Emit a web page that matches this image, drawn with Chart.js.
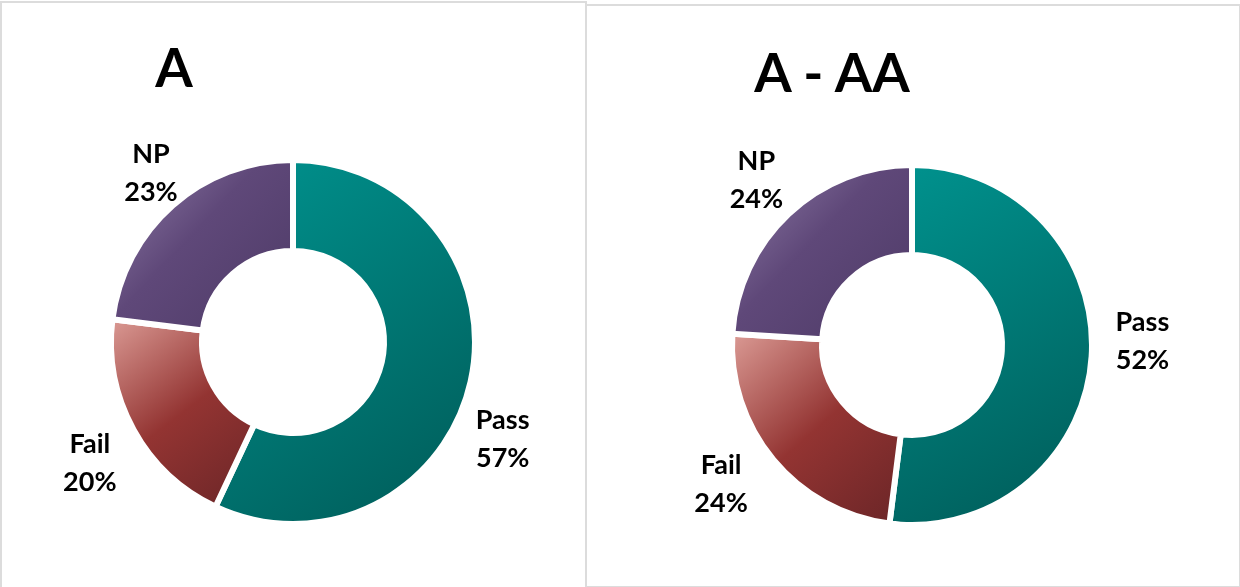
<!DOCTYPE html>
<html>
<head>
<meta charset="utf-8">
<script src="https://cdn.jsdelivr.net/npm/chart.js@4/dist/chart.umd.min.js"></script>
<style>
  html, body { margin: 0; padding: 0; background: #fff; }
  body { width: 1240px; height: 587px; position: relative; overflow: hidden; font-family: Lato, "Open Sans", sans-serif; }
  .box { position: absolute; box-sizing: border-box; border: 2px solid #dcdcdc; background: #fff; }
  .title { position: absolute; font-weight: 700; font-size: 54px; line-height: 1; color: #000; white-space: nowrap; transform: translateX(-50%); }
  canvas { position: absolute; }
</style>
</head>
<body>
<div class="box" style="left:0px; top:1px; width:587px; height:600px;"></div>
<div class="box" style="left:585px; top:4px; width:656px; height:584px;"></div>
<div class="title" id="titleA" style="left:174px; top:40px;"></div>
<div class="title" id="titleB" style="left:832px; top:45px;"></div>
<canvas id="chartA" width="585" height="587" style="left:0px; top:0px;"></canvas>
<canvas id="chartB" width="654" height="587" style="left:586px; top:0px;"></canvas>

<script>
// data
const categories = ["Pass", "Fail", "NP"];
const valuesA = [57, 20, 23];
const valuesAAA = [52, 24, 24];
const chartTitles = ["A", "A - AA"];

// gradient stops per slice (top-left -> bottom-right of the slice)
const sliceStops = [
  [[0, "#00938f"], [1, "#005a57"]],
  [[0, "#dc9c96"], [0.5, "#933432"], [1, "#6a2527"]],
  [[0, "#917faa"], [0.45, "#5f4879"], [1, "#4d3a66"]],
];

document.getElementById("titleA").textContent = chartTitles[0];
document.getElementById("titleB").textContent = chartTitles[1];

/**
 * Linear gradient across the bounding box of one doughnut slice
 */
function sliceGradient(context) {
  const chart = context.chart;
  const area = chart.chartArea;
  const i = context.dataIndex;
  const stops = sliceStops[i % sliceStops.length];
  if (!area || i === undefined) return stops[0][1];

  const data = chart.data.datasets[0].data;
  const total = data.reduce((a, b) => a + b, 0);
  const before = data.slice(0, i).reduce((a, b) => a + b, 0);
  const start = -Math.PI / 2 + (before / total) * Math.PI * 2;
  const end = start + (data[i] / total) * Math.PI * 2;

  const cx = (area.left + area.right) / 2;
  const cy = (area.top + area.bottom) / 2;
  const outer = Math.min(area.width, area.height) / 2;
  const inner = outer * 0.5;

  let minX = Infinity, minY = Infinity, maxX = -Infinity, maxY = -Infinity;
  for (let k = 0; k <= 60; k++) {
    const a = start + ((end - start) * k) / 60;
    [outer, inner].forEach((r) => {
      const px = cx + Math.cos(a) * r;
      const py = cy + Math.sin(a) * r;
      minX = Math.min(minX, px); maxX = Math.max(maxX, px);
      minY = Math.min(minY, py); maxY = Math.max(maxY, py);
    });
  }

  const g = chart.ctx.createLinearGradient(minX, minY, maxX, maxY);
  stops.forEach(([pos, col]) => g.addColorStop(pos, col));
  return g;
}

/**
 * Plugin drawing "Name\nNN%" labels outside each slice
 */
const outsideLabels = {
  id: "outsideLabels",
  afterDatasetsDraw(chart, args, opts) {
    const { ctx } = chart;
    const meta = chart.getDatasetMeta(0);
    const data = chart.data.datasets[0].data;
    const fontSize = 27;
    const lineH = 38;
    const nudge = opts.nudge || [];
    ctx.save();
    ctx.font = `700 ${fontSize}px Lato, "Open Sans", sans-serif`;
    ctx.fillStyle = "#000";
    ctx.textAlign = "center";
    ctx.textBaseline = "middle";

    meta.data.forEach((arc, i) => {
      const mid = (arc.startAngle + arc.endAngle) / 2;
      const dx = Math.cos(mid);
      const dy = Math.sin(mid);
      const line1 = chart.data.labels[i];
      const line2 = `${data[i]}%`;
      const w = Math.max(ctx.measureText(line1).width, ctx.measureText(line2).width);
      const h = lineH * 2;
      const r = arc.outerRadius + opts.gap;
      const [nx, ny] = nudge[i] || [0, 0];
      const x = arc.x + dx * r + dx * w / 2 + nx;
      const y = arc.y + dy * r + dy * h / 2 + ny;
      ctx.fillText(line1, x, y - lineH / 2);
      ctx.fillText(line2, x, y + lineH / 2);
    });
    ctx.restore();
  },
};

function makeChart(id, values, padding, nudge) {
  return new Chart(document.getElementById(id), {
    type: "doughnut",
    data: {
      labels: categories,
      datasets: [{
        data: values,
        backgroundColor: sliceGradient,
        borderColor: "#ffffff",
        borderWidth: 6,
        hoverOffset: 0,
      }],
    },
    options: {
      responsive: false,
      animation: false,
      cutout: "50%",
      rotation: 0,
      layout: { padding: padding },
      plugins: {
        legend: { display: false },
        tooltip: { enabled: false },
        outsideLabels: { gap: 6, nudge: nudge },
      },
    },
    plugins: [outsideLabels],
  });
}

// label nudges follow the hand-placed labels of the original
makeChart("chartA", valuesA, { left: 108, right: 107, top: 157, bottom: 60 },
  [[0, 48], [-15, 12], [0, 1]]);
makeChart("chartB", valuesAAA, { left: 143, right: 145, top: 162, bottom: 59 },
  [[18, -18], [-27, -3], [-10, -1]]);
</script>
</body>
</html>
